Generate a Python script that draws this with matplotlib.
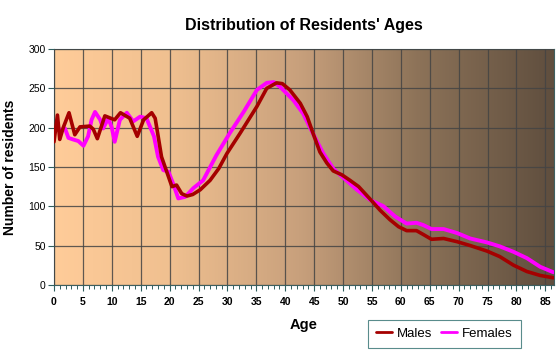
import matplotlib
matplotlib.use('Agg')
import matplotlib.pyplot as plt
import numpy as np
from matplotlib.colors import LinearSegmentedColormap

plt.rcParams['font.family'] = ['Liberation Sans', 'DejaVu Sans']

# Values
male_ages = [0, 0.6, 1.0, 1.6, 2.6, 3.6, 4.5, 6.2, 6.8, 7.5, 8.8, 10.5, 11.5, 13.1,
             14.4, 15.5, 16.9, 17.5, 18.0, 18.6, 19.5, 20.4, 21.2, 22.1, 23.0, 24.0,
             25.3, 27.0, 28.5, 29.9, 32.2, 35.1, 36.8, 38.5, 39.5, 40.8, 42.6, 43.8,
             44.9, 46.0, 47.2, 48.3, 49.8, 51.2, 52.7, 54.7, 56.4, 58.1, 59.6, 61.0,
             62.7, 63.9, 65.3, 67.4, 69.7, 72.0, 74.9, 77.1, 79.5, 81.8, 84.1, 86.4]
males = [182, 216, 185, 200, 219, 191, 201, 202, 198, 186, 215, 210, 219, 212,
         189, 210, 219, 212, 190, 163, 144, 125, 127, 116, 113, 115,
         121, 133, 148, 167, 193, 227, 250, 257, 256, 248, 231, 214,
         191, 169, 155, 145, 140, 133, 125, 109, 95, 83, 74, 69,
         69, 64, 58, 59, 55, 50, 43, 36, 25, 17, 12, 9]

female_ages = [0, 0.5, 1.3, 1.9, 2.5, 3.3, 4.2, 5.1, 5.9, 6.5, 7.1, 8.0, 8.5, 9.4,
               10.0, 10.5, 11.4, 12.6, 13.7, 14.9, 16.0, 17.3, 18.0, 18.9, 19.8,
               20.6, 21.5, 22.7, 24.1, 25.8, 28.1, 30.4, 32.8, 35.1, 36.8, 38.0,
               39.1, 41.4, 43.1, 44.9, 46.6, 48.3, 50.1, 52.4, 54.7, 57.0, 59.0,
               61.0, 62.7, 63.9, 65.3, 67.4, 69.7, 72.0, 74.9, 77.1, 79.5, 81.8,
               84.1, 86.4]
females = [193, 199, 197, 199, 187, 185, 183, 177, 189, 210, 220, 210, 199, 212,
           200, 182, 210, 219, 208, 214, 212, 189, 163, 146, 144,
           129, 110, 112, 123, 133, 165, 193, 220, 248, 257, 258,
           252, 235, 218, 191, 167, 148, 136, 121, 108, 100, 87,
           78, 79, 76, 71, 71, 66, 59, 54, 49, 42, 34,
           23, 16]

x_ticks = list(range(0, 90, 5))
y_ticks = list(range(0, 350, 50))

fig = plt.figure(figsize=(5.6, 3.53), dpi=100)
fig.patch.set_facecolor('white')
ax = fig.add_axes([0.0964, 0.193, 0.893, 0.668])

# gradient background (peach -> dark brown)
stops = [(0.0, '#FFCC99'), (0.23, '#F0C090'), (0.49, '#C8A07C'),
         (0.73, '#8C7258'), (1.0, '#5F4E3E')]
cmap = LinearSegmentedColormap.from_list('bg', stops)
grad = np.linspace(0, 1, 256).reshape(1, -1)
ax.imshow(grad, cmap=cmap, aspect='auto', extent=[0, 1, 0, 1],
          transform=ax.transAxes, zorder=0)

ax.set_xlim(0, 86.5)
ax.set_ylim(0, 300)

ax.grid(True, color='#444444', linewidth=0.9, alpha=0.85, zorder=1)
ax.set_axisbelow(False)

ax.plot(female_ages, females, color='#FF00FF', linewidth=2.8,
        solid_capstyle='round', solid_joinstyle='round', zorder=3, label='Females')
ax.plot(male_ages, males, color='#A50000', linewidth=2.6,
        solid_capstyle='round', solid_joinstyle='round', zorder=4, label='Males')

ax.set_xticks(x_ticks)
ax.set_xticks(range(0, 87), minor=True)
ax.set_yticks(y_ticks)
ax.tick_params(axis='x', which='major', length=4, width=0.8, color='#2f5f5f',
               labelsize=7.5, pad=5)
ax.tick_params(axis='x', which='minor', length=3, width=0.7, color='#2f5f5f')
ax.tick_params(axis='y', length=4, width=0.8, color='#2f5f5f', labelsize=7.5, pad=2)
for lab in ax.get_xticklabels():
    lab.set_fontweight('bold')
for s in ax.spines.values():
    s.set_color('#3f5f5f')
    s.set_linewidth(0.8)

ax.set_title("Distribution of Residents' Ages", fontsize=11.5, fontweight='bold',
             pad=14)
ax.set_xlabel('Age', fontsize=10.5, fontweight='bold', labelpad=8)
ax.set_ylabel('Number of residents', fontsize=10, fontweight='bold', labelpad=8)

handles, labels = ax.get_legend_handles_labels()
leg = fig.legend(handles[::-1], labels[::-1], loc='lower left',
                 bbox_to_anchor=(368 / 560, 1 - 348 / 353, 153 / 560, 32 / 353),
                 mode='expand', ncol=2, frameon=True, fancybox=False,
                 fontsize=9.5, handlelength=1.2, handletextpad=0.4,
                 columnspacing=1.5, borderaxespad=0, borderpad=0.6)
leg.get_frame().set_edgecolor('#2f6f6f')
leg.get_frame().set_linewidth(0.8)
leg.get_frame().set_facecolor('white')
for line in leg.get_lines():
    line.set_linewidth(2)

fig.savefig('out.png', dpi=100)
